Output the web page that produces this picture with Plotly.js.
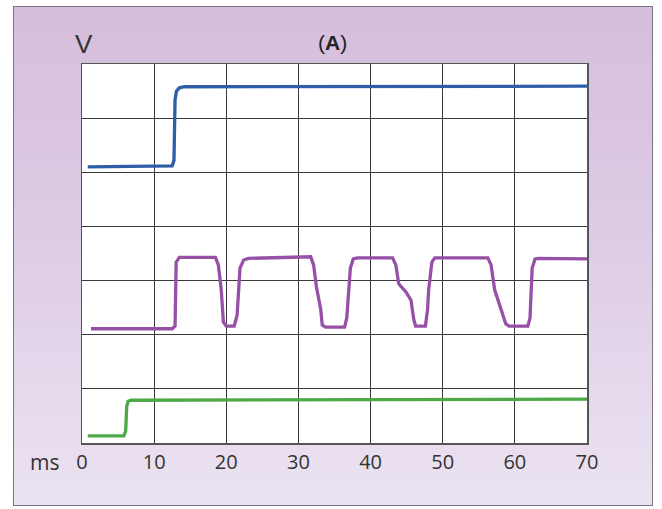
<!DOCTYPE html>
<html>
<head>
<meta charset="utf-8">
<script src="https://cdn.plot.ly/plotly-3.0.1.min.js"></script>
<style>
  html, body { margin:0; padding:0; background:#ffffff; width:662px; height:509px; overflow:hidden; }
  #frame { position:absolute; left:13px; top:6px; width:638px; height:498px;
           border:1.5px solid #7a7480;
           background: linear-gradient(to bottom, #d5bedc 0%, #ddcbe5 45%, #ebe3f1 100%); }
  #chart { position:absolute; left:0; top:0; width:662px; height:509px; }
</style>
</head>
<body>
<div id="frame"></div>
<div id="chart"></div>
<script>
// Time axis ticks (ms)
const xTicks = [0, 10, 20, 30, 40, 50, 60, 70];

// Blue trace
const blueX = [0.8, 12.5, 12.75, 12.9, 13.1, 13.5, 14.2, 70];
const blueY = [5.10, 5.12, 5.22, 6.34, 6.50, 6.56, 6.58, 6.59];

// Purple trace
const purpleX = [1.25, 12.5, 12.9, 13.05, 13.5, 18.5, 18.9, 19.3, 19.6, 20.0, 21.1, 21.5, 21.9, 22.4, 23.1,
  31.7, 32.1, 32.5, 33.1, 33.3, 33.75, 36.4, 36.7, 37.2, 37.6, 38.2,
  43.05, 43.5, 43.9, 44.9, 45.6, 46.0, 46.25, 47.6, 47.9, 48.05, 48.5, 48.9,
  56.25, 56.7, 57.2, 58.05, 58.75, 59.2, 61.8, 62.1, 62.4, 62.8, 63.3, 70];
const purpleY = [2.11, 2.11, 2.16, 3.34, 3.43, 3.43, 3.29, 2.83, 2.23, 2.16, 2.16, 2.36, 3.23, 3.38, 3.41,
  3.44, 3.29, 2.88, 2.46, 2.18, 2.14, 2.14, 2.31, 3.23, 3.40, 3.42,
  3.42, 3.29, 2.94, 2.79, 2.64, 2.27, 2.16, 2.16, 2.46, 2.83, 3.34, 3.42,
  3.42, 3.29, 2.83, 2.46, 2.20, 2.16, 2.16, 2.31, 3.23, 3.40, 3.41, 3.40];

// Green trace
const greenX = [0.8, 5.8, 6.05, 6.2, 6.4, 6.8, 70];
const greenY = [0.13, 0.13, 0.22, 0.68, 0.77, 0.79, 0.81];

const lineW = 3.3;
const traces = [
  {x: blueX, y: blueY, mode: 'lines', line: {color: '#2f5ea8', width: lineW, shape: 'linear'}, hoverinfo: 'skip'},
  {x: purpleX, y: purpleY, mode: 'lines', line: {color: '#9650a6', width: lineW, shape: 'linear'}, hoverinfo: 'skip'},
  {x: greenX, y: greenY, mode: 'lines', line: {color: '#4ea845', width: lineW, shape: 'linear'}, hoverinfo: 'skip'}
];

const layout = {
  width: 662, height: 509,
  margin: {l: 82, r: 75, t: 64, b: 66},
  paper_bgcolor: 'rgba(0,0,0,0)',
  plot_bgcolor: '#ffffff',
  showlegend: false,
  font: {family: '"Open Sans", "Noto Sans", sans-serif', color: '#333333'},
  xaxis: {
    range: [0, 70], tickvals: xTicks, ticktext: xTicks.map(String),
    showgrid: true, gridcolor: '#3a3a3a', gridwidth: 1,
    showline: true, linecolor: '#555555', linewidth: 1.5, mirror: true,
    zeroline: false, ticks: '', tickfont: {size: 20, color: '#333333'},
    fixedrange: true
  },
  yaxis: {
    range: [0, 7], dtick: 1, tick0: 0,
    showgrid: true, gridcolor: '#3a3a3a', gridwidth: 1,
    showline: true, linecolor: '#555555', linewidth: 1.5, mirror: true,
    zeroline: false, ticks: '', showticklabels: false,
    fixedrange: true
  },
  annotations: [
    {text: '(<b>A</b>)', xref: 'paper', yref: 'paper', x: 0.497, y: 1.058, showarrow: false,
     font: {family: '"Liberation Sans", Arial, sans-serif', size: 21, color: '#222222'}, xanchor: 'center', yanchor: 'middle'},
    {text: 'V', xref: 'paper', yref: 'paper', x: 0.003, y: 1.053, showarrow: false,
     font: {family: '"Liberation Sans", Arial, sans-serif', size: 26, color: '#333333'}, xanchor: 'center', yanchor: 'middle'},
    {text: 'ms', xref: 'paper', yref: 'paper', x: -0.074, y: -0.05, showarrow: false,
     font: {size: 21, color: '#333333'}, xanchor: 'center', yanchor: 'middle'}
  ]
};

Plotly.newPlot('chart', traces, layout, {displayModeBar: false, staticPlot: true});
</script>
</body>
</html>
